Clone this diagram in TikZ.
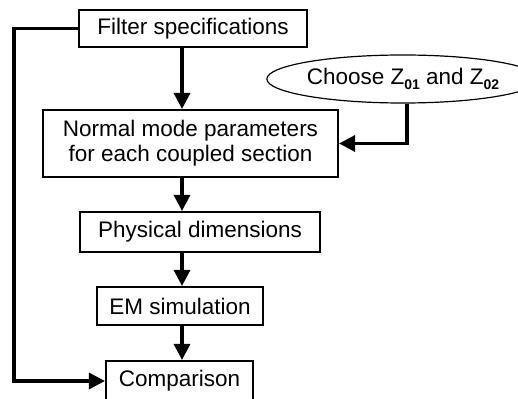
\documentclass[tikz,border=0pt]{standalone}
\usepackage{fontspec}
\setmainfont{Liberation Sans}
\usetikzlibrary{arrows.meta,positioning,calc,shapes.geometric}
\tikzset{
  >=Stealth,
  every picture/.append style={line width=0.6pt},
  every node/.append style={font=\fontsize{22.5}{25}\selectfont},
}
\tikzset{
  box/.style={draw, line width=2.1pt, align=center, inner sep=0pt},
  arrow/.style={-{Triangle[length=16pt,width=16pt]}, line width=3.2pt}
}
\newcommand{\zsub}[1]{\raisebox{-5pt}{\fontsize{14}{14}\selectfont\bfseries #1}}

\begin{document}
\begin{tikzpicture}[
  x=1pt, y=-1pt,
  oval/.style={ellipse, draw, line width=1.2pt, inner sep=0pt}
]
\clip (0,0) rectangle (518,398);

\node[box, minimum width=228pt, minimum height=37pt] (spec)   at (193,28.5)  {Filter specifications};
\node[oval, minimum width=226pt, minimum height=48pt] (choose) at (403,79)    {Choose Z\zsub{01} and Z\zsub{02}};
\node[box, minimum width=295pt, minimum height=67pt] (normal) at (190.5,143.5) {Normal mode parameters\\for each coupled section};
\node[box, minimum width=240pt, minimum height=40pt] (phys)   at (200,232)   {Physical dimensions};
\node[box, minimum width=166pt, minimum height=38pt] (em)     at (180,306)   {EM simulation};
\node[box, minimum width=147pt, minimum height=40pt] (comp)   at (179.5,381) {Comparison};

% main flow down the spine
\coordinate (spine) at (182,0);
\coordinate (rail)  at (14,0);
\coordinate (drop)  at (407,0);
\draw[arrow] (spec.south -| spine)   -- (normal.north -| spine);
\draw[arrow] (normal.south -| spine) -- (phys.north -| spine);
\draw[arrow] (phys.south -| spine)   -- (em.north -| spine);
\draw[arrow] (em.south -| spine)     -- (comp.north -| spine);

\draw[arrow] (choose.south -| drop) |- (normal.east);
\draw[arrow] (spec.west) -- (spec.west -| rail) |- (comp.west);

\end{tikzpicture}
\end{document}
